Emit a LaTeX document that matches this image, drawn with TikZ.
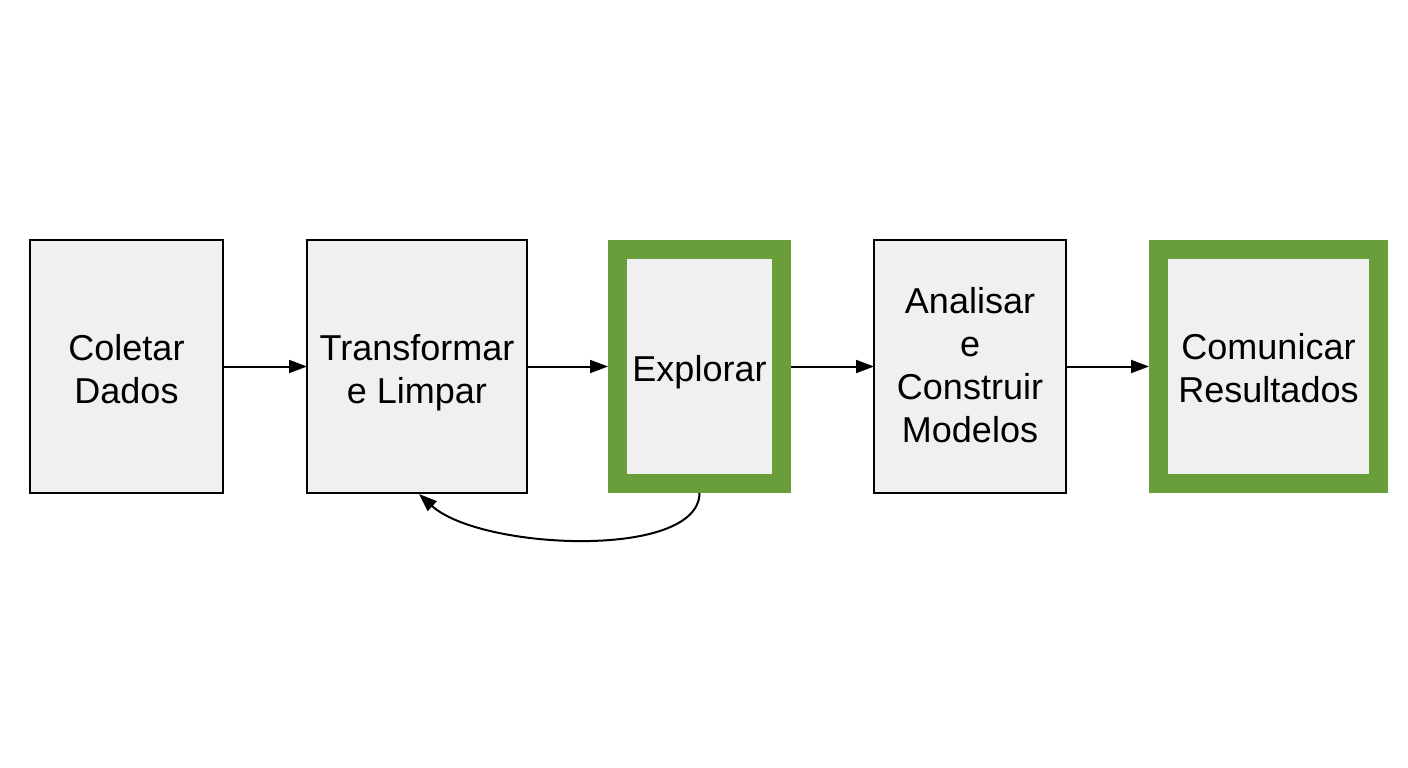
\documentclass[tikz,border=0pt]{standalone}
\usepackage{fontspec}
\setmainfont{Liberation Sans}
\usetikzlibrary{arrows.meta}
\definecolor{boxfill}{HTML}{F0F0F0}
\definecolor{grn}{HTML}{6A9E3A}
\begin{document}
\begin{tikzpicture}[x=1pt,y=-1pt,
  plainbox/.style={draw=black,line width=2pt,fill=boxfill,inner sep=0pt,outer sep=0pt,
    minimum height=253pt},
  greenbox/.style={draw=grn,line width=19pt,fill=boxfill,inner sep=0pt,outer sep=0pt,
    minimum height=234pt},
  lbl/.style={inner sep=0pt,align=center,font=\fontsize{36}{43}\selectfont},
  flow/.style={-{Triangle[length=18pt,width=13pt]},line width=2pt}]
\useasboundingbox (0,0) rectangle (1408,768);
\fill[white] (0,0) rectangle (1408,768);
\node[plainbox,minimum width=193pt] (c) at (126.5,366.5) {};
\node[plainbox,minimum width=220pt] (t) at (417,366.5) {};
\node[greenbox,minimum width=164pt] (e) at (699.5,366.5) {};
\node[plainbox,minimum width=192pt] (a) at (970,366.5) {};
\node[greenbox,minimum width=220pt] (r) at (1268.5,366.5) {};
\node[lbl,yshift=-3pt] (cl) at (c) {Coletar\\Dados};
\node[lbl,yshift=-6pt] (tl) at (t) {Transformar\\e Limpar};
\node[lbl,yshift=-6pt] (el) at (e) {Explorar};
\node[lbl,yshift=1pt] (al) at (a) {Analisar\\e\\Construir\\Modelos};
\node[lbl,yshift=-2pt] (rl) at (r) {Comunicar\\Resultados};
\draw[flow] (c.east) -- (t.west);
\draw[flow] (t.east) -- ([xshift=-9.5pt]e.west);
\draw[flow] ([xshift=9.5pt]e.east) -- (a.west);
\draw[flow] (a.east) -- ([xshift=-9.5pt]r.west);
\coordinate (es) at ([yshift=-9.5pt]e.south);
\coordinate (tb) at (419,494);
\draw[flow] (es) .. controls (699,560) and (480,550) .. (tb);
\end{tikzpicture}
\end{document}
